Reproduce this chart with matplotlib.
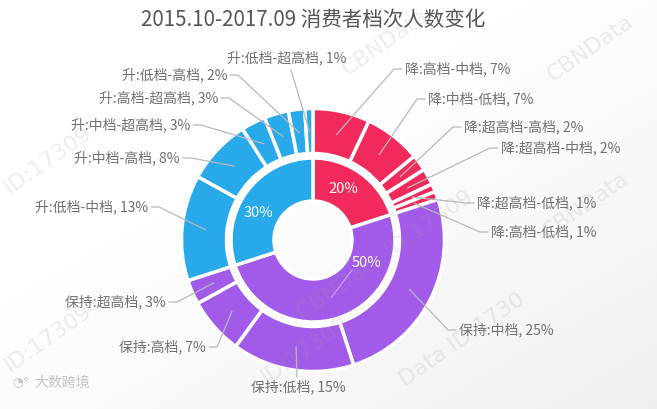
import numpy as np
import matplotlib
matplotlib.use("Agg")
import matplotlib.pyplot as plt

plt.rcParams['font.family'] = ['Noto Sans CJK SC', 'DejaVu Sans']

# ---------------- data ----------------
title = "2015.10-2017.09 消费者档次人数变化"
inner_names = ["降", "保持", "升"]
inner_values = [20, 50, 30]
outer_names = ["降:高档-中档", "降:中档-低档", "降:超高档-高档", "降:超高档-中档",
               "降:超高档-低档", "降:高档-低档",
               "保持:中档", "保持:低档", "保持:高档", "保持:超高档",
               "升:低档-中档", "升:中档-高档", "升:中档-超高档", "升:高档-超高档",
               "升:低档-高档", "升:低档-超高档"]
outer_values = [7, 7, 2, 2, 1, 1, 25, 15, 7, 3, 13, 8, 3, 3, 2, 1]
outer_group = [0, 0, 0, 0, 0, 0, 1, 1, 1, 1, 2, 2, 2, 2, 2, 2]

# ---------------- style / layout ----------------
group_colors = ["#F22A5B", "#A25BE8", "#28AAEA"]
W, H = 657, 409
CX, CY = 313, 240          # pixel coords of centre (y from top)
# label text anchor (pixel x, pixel y, side)
label_layout = [
    (405, 69, 'L'), (428, 99, 'L'), (464, 127, 'L'), (501, 148, 'L'),
    (477, 203, 'L'), (491, 232, 'L'), (459, 330, 'L'),
    (298, 387, 'B'),
    (206, 347, 'R'), (166, 302, 'R'),
    (148, 207, 'R'), (180, 158, 'R'), (190, 125, 'R'), (218, 98, 'R'), (227, 75, 'R'),
    (287, 58, 'T'),
]
inner_label_pos = [(343, 189), (367, 263), (258, 213)]

fig = plt.figure(figsize=(W / 100, H / 100), dpi=100)
ax = fig.add_axes([0, 0, 1, 1])

def Y(py):
    return H - py

# subtle background gradient
gx, gy = np.meshgrid(np.linspace(0, 1, 200), np.linspace(0, 1, 120))
grad = np.clip(0.55 * gx + 0.6 * gy - 0.45, 0, 1)
bg = np.ones((120, 200, 3)) - grad[..., None] * 0.085
ax.imshow(bg, extent=(0, W, 0, H), origin='upper', zorder=0, aspect='auto')

center = (CX, Y(CY))
outer_colors = [group_colors[g] for g in outer_group]
ax.pie(outer_values, radius=131.5, center=center, startangle=90, counterclock=False,
       colors=outer_colors,
       wedgeprops=dict(width=45, edgecolor='white', linewidth=2.5, zorder=2))
ax.pie(inner_values, radius=82, center=center, startangle=90, counterclock=False,
       colors=group_colors,
       wedgeprops=dict(width=43, edgecolor='white', linewidth=2.5, zorder=2))

ax.set_xlim(0, W)
ax.set_ylim(0, H)
ax.set_aspect('equal')
ax.axis('off')

# outer labels with leader lines
total = float(sum(outer_values))
cum = 0.0
line_col = "#b8b8b8"
text_col = "#707070"
for name, v, (tx, ty, side) in zip(outer_names, outer_values, label_layout):
    frac = (cum + v / 2.0) / total
    cum += v
    ang = np.deg2rad(90 - 360 * frac)
    r0 = 108
    sx, sy = CX + r0 * np.cos(ang), CY - r0 * np.sin(ang)
    if side == 'L':
        ex, ey, fx, fy = tx - 11, ty, tx - 3, ty
        ha, va = 'left', 'center'
    elif side == 'R':
        ex, ey, fx, fy = tx + 11, ty, tx + 3, ty
        ha, va = 'right', 'center'
    elif side == 'B':
        ex, ey, fx, fy = tx - 1, ty - 10, tx - 1, ty - 10
        ha, va = 'center', 'center'
    else:
        ex, ey, fx, fy = tx + 4, ty + 12, tx + 4, ty + 12
        ha, va = 'center', 'center'
    ax.plot([sx, ex, fx], [Y(sy), Y(ey), Y(fy)], color=line_col, lw=0.9, zorder=3,
            solid_capstyle='round')
    ax.text(tx, Y(ty), f"{name}, {v}%", ha=ha, va=va, fontsize=10, color=text_col, zorder=4)

# inner labels
for v, (px, py) in zip(inner_values, inner_label_pos):
    ax.text(px, Y(py), f"{v}%", ha='center', va='center', fontsize=10.5, color='white', zorder=4)
# faint leader for the 50% label
tot_in = float(sum(inner_values))
mid50 = (inner_values[0] + inner_values[1] / 2.0) / tot_in
a50 = np.deg2rad(90 - 360 * mid50)
ax.plot([CX + 60 * np.cos(a50), 352], [Y(CY - 60 * np.sin(a50)), Y(270)],
        color='white', alpha=0.45, lw=0.8, zorder=3)

# title
ax.text(313, Y(20), title, ha='center', va='center', fontsize=14.8, color='#555555', zorder=5)

# watermarks (kept inside the canvas)
wm_col = '#9a9a9a'
for (wx, wy, s) in [(385, 42, "CBNData"), (590, 48, "CBNData"), (385, 255, "CBNData ID:17309"),
                    (48, 160, "ID:17309"), (585, 205, "CBNData"), (48, 338, "ID:17309"),
                    (305, 350, "ID:17309"), (462, 340, "Data ID:1730")]:
    ax.text(wx, Y(wy), s, rotation=35, ha='center', va='center', fontsize=16,
            color=wm_col, alpha=0.18, zorder=6, family=['DejaVu Sans'])

# logo text bottom-left
ax.text(12, Y(383), "◔°", ha='left', va='center', fontsize=9, color='#c4c4c4', zorder=6,
        family=['DejaVu Sans'])
ax.text(34, Y(383), "大数跨境", ha='left', va='center', fontsize=10, color='#c4c4c4', zorder=6)

fig.savefig("out.png", dpi=100)
